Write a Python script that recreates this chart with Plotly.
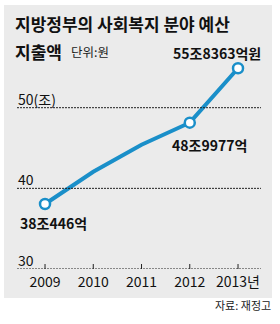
import plotly.graph_objects as go

# ---- data ----
years = [2009, 2010, 2011, 2012, 2013]
year_labels = ["2009", "2010", "2011", "2012", "2013년"]
spending = [38.06, 42.06, 45.4, 48.14, 54.89]   # trillion won (as drawn)
label_years = [2009, 2012, 2013]
label_vals = [38.06, 48.14, 54.89]
label_texts = ["38조446억", "48조9977억", "55조8363억원"]
y_ticks = [30, 40, 50]
y_tick_text = ["30", "40", "50(조)"]

W, H = 280, 324
PB = 269  # plot bottom pixel
BLUE = "#1a8fc9"
NUMFONT = "Liberation Sans Narrow, Noto Sans CJK KR, sans-serif"
KRFONT = "Noto Sans CJK KR, sans-serif"


def px(x):
    return x / W


def py(y):
    return (PB - y) / PB


fig = go.Figure()
fig.add_trace(go.Scatter(
    x=years, y=spending, mode="lines",
    line=dict(color=BLUE, width=4), hoverinfo="skip", showlegend=False))
fig.add_trace(go.Scatter(
    x=label_years, y=label_vals, mode="markers",
    marker=dict(size=10, color="white", line=dict(color=BLUE, width=2.5)),
    hoverinfo="skip", showlegend=False))

shapes = [dict(type="rect", xref="paper", yref="paper",
               x0=px(4), x1=px(272), y0=py(298), y1=py(5),
               fillcolor="#ebebeb", line=dict(width=0), layer="below")]
for v in y_ticks:
    shapes.append(dict(type="line", xref="paper", yref="y",
                       x0=px(17), x1=px(261), y0=v, y1=v,
                       line=dict(color="#222", width=1, dash="2px,1px")))
# small upward tick marks on the baseline at each year
for xv in years:
    shapes.append(dict(type="line", xref="x", yref="paper",
                       x0=xv, x1=xv, y0=0, y1=py(PB - 5),
                       line=dict(color="#222", width=1)))

ann = []
ann.append(dict(text="<b>지방정부의 사회복지 분야 예산</b>", xref="paper", yref="paper",
                x=px(13), y=py(23), xanchor="left", yanchor="middle", showarrow=False,
                font=dict(family=KRFONT, size=17, color="#111")))
ann.append(dict(text="<b>지출액</b>", xref="paper", yref="paper",
                x=px(13), y=py(51), xanchor="left", yanchor="middle", showarrow=False,
                font=dict(family=KRFONT, size=17, color="#111")))
ann.append(dict(text="단위:원", xref="paper", yref="paper",
                x=px(69), y=py(52), xanchor="left", yanchor="middle", showarrow=False,
                font=dict(family=KRFONT, size=12.5, color="#222")))
ann.append(dict(text="자료: 재정고", xref="paper", yref="paper",
                x=px(273), y=py(305), xanchor="right", yanchor="middle", showarrow=False,
                font=dict(family=KRFONT, size=11, color="#222")))

shifts = [(8, -19), (20, -22), (-21, 15)]
for xv, yv, t, (dx, dy) in zip(label_years, label_vals, label_texts, shifts):
    ann.append(dict(text="<b>" + t + "</b>", x=xv, y=yv, xref="x", yref="y",
                    xshift=dx, yshift=dy,
                    xanchor="center", yanchor="middle", showarrow=False,
                    font=dict(family=NUMFONT, size=14, color="#111")))

for v, t in zip(y_ticks, y_tick_text):
    ann.append(dict(text=t, x=px(16), y=v, xref="paper", yref="y",
                    xanchor="left", yanchor="bottom", yshift=-3, showarrow=False,
                    font=dict(family=NUMFONT, size=14, color="#111")))

fig.update_layout(
    width=W, height=H,
    margin=dict(l=0, r=0, t=0, b=H - PB, pad=0),
    paper_bgcolor="white", plot_bgcolor="rgba(0,0,0,0)",
    shapes=shapes, annotations=ann,
    xaxis=dict(range=[2008.067, 2013.870], tickvals=years, ticktext=year_labels,
               ticks="", ticklabelstandoff=3,
               showgrid=False, zeroline=False, showline=False, fixedrange=True,
               tickfont=dict(family=NUMFONT, size=14, color="#111")),
    yaxis=dict(range=[30, 30 + PB / 8.065], showticklabels=False, ticks="",
               showgrid=False, zeroline=False, showline=False, fixedrange=True),
)

fig.write_html("out.html", config=dict(displayModeBar=False))
